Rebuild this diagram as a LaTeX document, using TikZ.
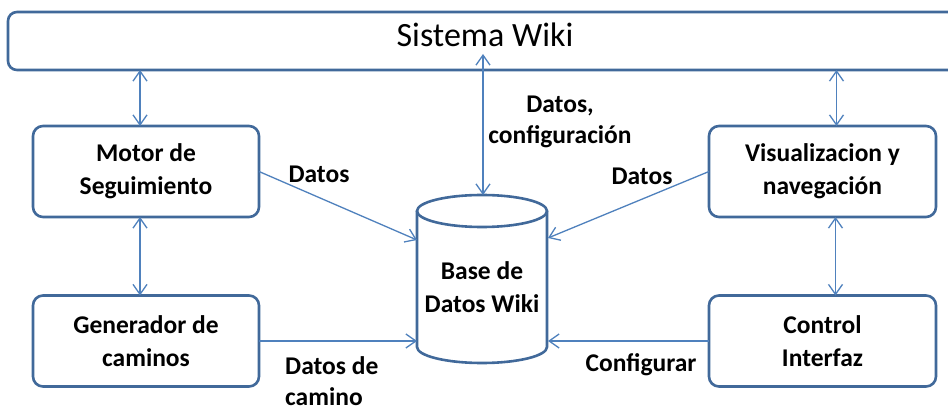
\documentclass[tikz,border=0pt]{standalone}
\usepackage{fontspec}
\setmainfont{Carlito}
\usetikzlibrary{arrows.meta,calc}
\definecolor{boxblue}{HTML}{41699A}
\definecolor{linkblue}{HTML}{4F81BD}
\tikzset{
  box/.style={draw=boxblue, line width=2.6pt, rounded corners=10pt, fill=white,
    minimum width=226pt, minimum height=91pt, inner sep=0pt, outer sep=0pt,
    align=center, font=\fontsize{25.5}{33}\selectfont\bfseries},
  boxline/.style={draw=boxblue, line width=2.6pt},
  conn/.style={draw=linkblue, line width=1.3pt, -{Straight Barb[length=10pt,width=14pt,line width=1.3pt]}},
  biconn/.style={draw=linkblue, line width=1.3pt, {Straight Barb[length=10pt,width=14pt,line width=1.3pt]}-{Straight Barb[length=10pt,width=14pt,line width=1.3pt]}},
  lbl/.style={inner sep=0pt, align=center, font=\fontsize{25.5}{31}\selectfont\bfseries},
  lbll/.style={inner sep=0pt, align=left, font=\fontsize{25.5}{31}\selectfont\bfseries}
}
\begin{document}
\begin{tikzpicture}[x=1pt, y=1pt]
  \useasboundingbox (0,0) rectangle (948,410);
  \fill[white] (0,0) rectangle (948,410);

  % top system bar (runs past the right edge)
  \node[draw=boxblue, line width=2.6pt, rounded corners=9pt, minimum width=967pt,
        minimum height=58pt, inner sep=0pt, outer sep=0pt] (wiki) at (491.5,369) {};
  \node[inner sep=0pt, anchor=base, font=\fontsize{34}{40}\selectfont] (wikilabel) at (485,363) {Sistema Wiki};

  % component boxes
  \node[box] (motor) at (146,238.5) {Motor de\\Seguimiento};
  \node[box] (gen)   at (146,69)    {Generador de\\caminos};
  \node[box, minimum width=227pt] (vis)  at (822.5,238.5) {Visualizacion y\\navegación};
  \node[box, minimum width=227pt] (ctrl) at (822.5,69)    {Control\\Interfaz};

  % database cylinder
  \node[minimum width=130pt, minimum height=136pt, inner sep=0pt, outer sep=0pt] (db) at (482,131) {};
  \fill[white] (db.north west) -- (db.south west) arc[start angle=180, end angle=360, x radius=65pt, y radius=16pt] -- (db.north east) -- cycle;
  \draw[boxline] (db.north west) -- (db.south west) arc[start angle=180, end angle=360, x radius=65pt, y radius=16pt] -- (db.north east);
  \draw[boxline, fill=white] (db.north) ellipse[x radius=65pt, y radius=16pt];
  \node[lbl, font=\fontsize{25.5}{33}\selectfont\bfseries] (dblabel) at (482,123) {Base de\\Datos Wiki};

  % links to the system bar
  \draw[biconn] ([xshift=-6pt]motor.north) -- ([xshift=-6pt]motor.north |- wiki.south);
  \draw[biconn] ([xshift=14pt]vis.north) -- ([xshift=14pt]vis.north |- wiki.south);
  \draw[biconn] ([yshift=16pt,xshift=1pt]db.north) -- ([yshift=16pt,xshift=1pt]db.north |- wiki.south);

  % vertical links between boxes
  \draw[biconn] ([xshift=-6pt]motor.south) -- ([xshift=-6pt]gen.north);
  \draw[biconn] ([xshift=13pt]vis.south) -- ([xshift=13pt]ctrl.north);

  % data flows into the database
  \draw[conn] (motor.east) -- ([yshift=39pt]db.west);
  \draw[conn] (gen.east) -- (gen.east -| db.west);
  \draw[conn] (vis.east -| vis.west) -- ([yshift=41pt,xshift=1pt]db.east);
  \draw[conn] (ctrl.west) -- ([xshift=1pt]ctrl.west -| db.east);

  % flow labels
  \node[lbl, anchor=base] (l1) at (319,227) {Datos};
  \node[lbl] (l2) at (560,288) {Datos,\\configuración};
  \node[lbl, anchor=base] (l3) at (642,225) {Datos};
  \node[lbll, anchor=north west] (l4) at (285,54) {Datos de\\camino};
  \node[lbl, anchor=base] (l5) at (641,39) {Configurar};
\end{tikzpicture}
\end{document}
